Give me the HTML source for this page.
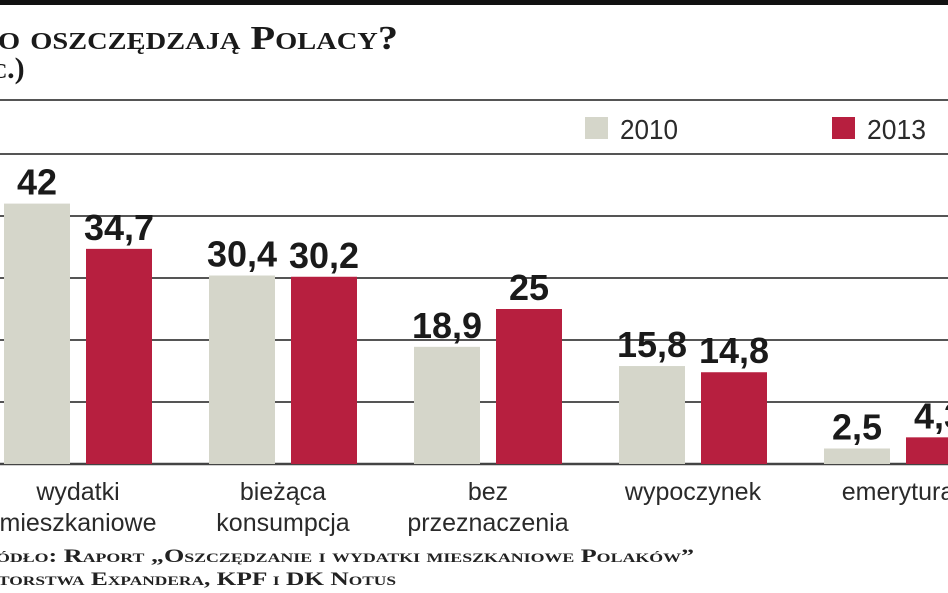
<!DOCTYPE html>
<html><head><meta charset="utf-8"><style>
html,body{margin:0;padding:0;background:#fff;}
svg{display:block;}
.cond{font-family:"Liberation Sans Narrow","Liberation Sans",sans-serif;}
.ser{font-family:"Liberation Serif",serif;font-weight:bold;font-variant:small-caps;}
</style></head><body>
<svg id="chart" width="948" height="593" viewBox="0 0 948 593" xmlns="http://www.w3.org/2000/svg">
<rect x="0" y="0" width="948" height="5" fill="#111"/>
<text class="ser" x="-2" y="49" font-size="34" fill="#1a1a1a" textLength="400" lengthAdjust="spacingAndGlyphs">o oszczędzają Polacy?</text>
<text class="ser" x="-8" y="78" font-size="30" fill="#1a1a1a">c.)</text>
<line x1="0" y1="100" x2="948" y2="100" stroke="#555" stroke-width="2"/>
<rect x="585" y="117" width="23" height="22" fill="#d5d6ca"/>
<text class="cond" x="620" y="139" font-size="28" fill="#2a2a2a" textLength="58" lengthAdjust="spacingAndGlyphs">2010</text>
<rect x="832" y="117" width="23" height="22" fill="#b71f3f"/>
<text class="cond" x="867" y="139" font-size="28" fill="#2a2a2a" textLength="59" lengthAdjust="spacingAndGlyphs">2013</text>
<g id="grid"></g>
<g id="bars"></g>
<g id="labels"></g>
<text class="ser" x="-4" y="562" font-size="19" fill="#222" textLength="698" lengthAdjust="spacingAndGlyphs">ódło: Raport „Oszczędzanie i wydatki mieszkaniowe Polaków”</text>
<text class="ser" x="-2" y="585" font-size="19" fill="#222" textLength="398" lengthAdjust="spacingAndGlyphs">torstwa Expandera, KPF i DK Notus</text>
</svg>
<script>
const categories = [["wydatki","mieszkaniowe"],["bieżąca","konsumpcja"],["bez","przeznaczenia"],["wypoczynek"],["emerytura"]];
const values2010 = [42, 30.4, 18.9, 15.8, 2.5];
const values2013 = [34.7, 30.2, 25, 14.8, 4.3];
const labels2010 = ["42","30,4","18,9","15,8","2,5"];
const labels2013 = ["34,7","30,2","25","14,8","4,3"];
const gridTicks = [10, 20, 30, 40, 50];

const NS = "http://www.w3.org/2000/svg";
const baseY = 464, pxPerUnit = 6.2;
function y(v){ return baseY - v * pxPerUnit; }
function groupX(i){ return 4 + i * 205; }
const barW = 66, gap = 82;

function mk(tag, attrs, parent){
  const el = document.createElementNS(NS, tag);
  for (const k in attrs) el.setAttribute(k, attrs[k]);
  parent.appendChild(el);
  return el;
}
const grid = document.getElementById('grid');
gridTicks.forEach(t => {
  const l = mk('line', {x1:0, x2:948, y1:y(t), y2:y(t), stroke:'#555', 'stroke-width':2}, grid);
  
  
});
const base = mk('line', {x1:0, x2:948, y1:baseY, y2:baseY, stroke:'#444', 'stroke-width':2.5}, grid);



const bars = document.getElementById('bars');
const labs = document.getElementById('labels');
categories.forEach((c, i) => {
  const series = [[values2010[i], labels2010[i], '#d5d6ca', 0], [values2013[i], labels2013[i], '#b71f3f', gap]];
  series.forEach((s, j) => {
    const x = groupX(i) + s[3];
    const r = mk('rect', {x:x, y:y(s[0]), width:barW, height:baseY - y(s[0]), fill:s[2]}, bars);
    
    
    const t = mk('text', {x:x + barW/2, y:y(s[0]) - 9, 'text-anchor':'middle', 'font-size':36, 'font-weight':'bold', fill:'#1a1a1a', class:'cond'}, bars);
    t.textContent = s[1];
    
    
  });
  const cx = groupX(i) + (gap + barW) / 2;
  c.forEach((line, k) => {
    const t = mk('text', {x:cx, y:500 + k * 31, 'text-anchor':'middle', 'font-size':25, fill:'#2a2a2a', class:'cond'}, labs);
    t.textContent = line;
    
    
  });
});
</script>
</body></html>
